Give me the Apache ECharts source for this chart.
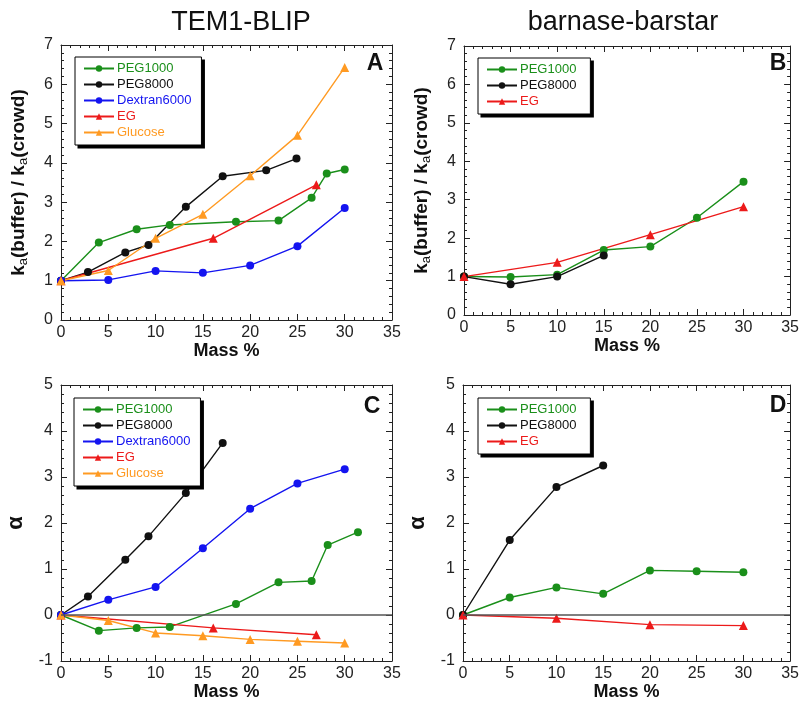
<!DOCTYPE html>
<html>
<head>
<meta charset="utf-8">
<script src="https://cdn.jsdelivr.net/npm/echarts@6/dist/echarts.min.js"></script>
<style>html,body{margin:0;padding:0;background:#fff;}#c{width:802px;height:702px;}</style>
</head>
<body>
<div id="c"></div>
<script>
// ---------- Data ----------
const xTicks = [0, 5, 10, 15, 20, 25, 30, 35];
// Panel A: TEM1-BLIP, ka(buffer)/ka(crowd)
const A_peg1000_x = [0, 4, 8, 11.5, 18.5, 23, 26.5, 28.1, 30];
const A_peg1000_y = [1, 1.97, 2.31, 2.42, 2.50, 2.53, 3.11, 3.73, 3.83];
const A_peg8000_x = [0, 2.85, 6.8, 9.25, 13.2, 17.1, 21.7, 24.9];
const A_peg8000_y = [1, 1.22, 1.72, 1.91, 2.88, 3.66, 3.81, 4.11];
const A_dex_x = [0, 5, 10, 15, 20, 25, 30];
const A_dex_y = [1, 1.02, 1.25, 1.20, 1.39, 1.88, 2.85];
const A_eg_x = [0, 16.1, 27];
const A_eg_y = [1, 2.08, 3.44];
const A_glu_x = [0, 5, 10, 15, 20, 25, 30];
const A_glu_y = [1, 1.26, 2.08, 2.69, 3.67, 4.70, 6.43];
// Panel B: barnase-barstar, ka(buffer)/ka(crowd)
const B_peg1000_x = [0, 5, 10, 15, 20, 25, 30];
const B_peg1000_y = [1, 0.99, 1.05, 1.69, 1.78, 2.53, 3.47];
const B_peg8000_x = [0, 5, 10, 15];
const B_peg8000_y = [1, 0.80, 1.00, 1.55];
const B_eg_x = [0, 10, 20, 30];
const B_eg_y = [1, 1.37, 2.09, 2.82];
// Panel C: TEM1-BLIP, alpha
const C_peg1000_x = [0, 4, 8, 11.5, 18.5, 23, 26.5, 28.2, 31.4];
const C_peg1000_y = [0, -0.34, -0.28, -0.26, 0.24, 0.71, 0.74, 1.52, 1.80];
const C_peg8000_x = [0, 2.85, 6.8, 9.25, 13.2, 17.1];
const C_peg8000_y = [0, 0.40, 1.20, 1.71, 2.65, 3.74];
const C_dex_x = [0, 5, 10, 15, 20, 25, 30];
const C_dex_y = [0, 0.33, 0.61, 1.45, 2.31, 2.86, 3.17];
const C_eg_x = [0, 16.1, 27];
const C_eg_y = [0, -0.28, -0.43];
const C_glu_x = [0, 5, 10, 15, 20, 25, 30];
const C_glu_y = [0, -0.12, -0.39, -0.45, -0.53, -0.57, -0.61];
// Panel D: barnase-barstar, alpha
const D_peg1000_x = [0, 5, 10, 15, 20, 25, 30];
const D_peg1000_y = [0, 0.38, 0.60, 0.46, 0.97, 0.95, 0.93];
const D_peg8000_x = [0, 5, 10, 15];
const D_peg8000_y = [0, 1.63, 2.78, 3.25];
const D_eg_x = [0, 10, 20, 30];
const D_eg_y = [0, -0.07, -0.21, -0.23];

const names = ['PEG1000', 'PEG8000', 'Dextran6000', 'EG', 'Glucose'];
const colors = { PEG1000: '#1a8f1a', PEG8000: '#111111', Dextran6000: '#1414f0', EG: '#ec1a1a', Glucose: '#ff9a22' };
const symbols = { PEG1000: 'circle', PEG8000: 'circle', Dextran6000: 'circle', EG: 'triangle', Glucose: 'triangle' };

// ---------- Build ----------
const FONT = 'Liberation Sans, Arial, Helvetica, sans-serif';
const pairs = (xs, ys) => xs.map((x, i) => [x, ys[i]]);

const grids = [
  { left: 61, top: 45, width: 331, height: 275 },
  { left: 464, top: 46, width: 331, height: 269 },
  { left: 61, top: 385, width: 331, height: 277 },
  { left: 463, top: 385, width: 331, height: 277 }
];
const yRanges = [[0, 7], [0, 7], [-1, 5], [-1, 5]];

const kaName = '{b|k}{s|a}{b|(buffer) / k}{s|a}{b|(crowd)}';
const yNames = [kaName, kaName, 'α', 'α'];

const xAxis = [], yAxis = [];
grids.forEach((g, i) => {
  const common = {
    gridIndex: i, type: 'value', min: 0, max: 35, interval: 5,
    axisLine: { show: true, onZero: false, lineStyle: { color: '#222', width: 1 } },
    axisTick: { show: true, inside: true, length: 6, lineStyle: { color: '#222' } },
    minorTick: { show: true, splitNumber: 5, length: 3, lineStyle: { color: '#222' } },
    splitLine: { show: false }, minorSplitLine: { show: false }
  };
  xAxis.push(Object.assign({}, common, {
    position: 'bottom',
    axisLabel: { show: true, fontSize: 16, color: '#222', fontFamily: FONT, margin: 5 },
    name: 'Mass %', nameLocation: 'middle', nameGap: 22,
    nameTextStyle: { fontSize: 18, fontWeight: 'bold', color: '#111', fontFamily: FONT }
  }));
  xAxis.push(Object.assign({}, common, { position: 'top', axisLabel: { show: false } }));
  const yc = {
    gridIndex: i, type: 'value', min: yRanges[i][0], max: yRanges[i][1], interval: 1,
    axisLine: { show: true, onZero: false, lineStyle: { color: '#222', width: 1 } },
    axisTick: { show: true, inside: true, length: 6, lineStyle: { color: '#222' } },
    minorTick: { show: true, splitNumber: 5, length: 3, lineStyle: { color: '#222' } },
    splitLine: { show: false }, minorSplitLine: { show: false }
  };
  const isKa = i < 2;
  yAxis.push(Object.assign({}, yc, {
    position: 'left',
    axisLabel: { show: true, fontSize: 16, color: '#222', fontFamily: FONT, margin: 8 },
    name: yNames[i], nameLocation: 'middle', nameGap: isKa ? 31 : 34,
    nameTextStyle: isKa ? {
      color: '#111', fontFamily: FONT,
      rich: {
        b: { fontSize: 19, fontWeight: 'bold', fontFamily: FONT, color: '#111', lineHeight: 22 },
        s: { fontSize: 13, fontWeight: 'normal', fontFamily: FONT, color: '#111', verticalAlign: 'bottom', lineHeight: 14, padding: [8, 0, 0, 0] }
      }
    } : { fontSize: 22, fontWeight: 'bold', color: '#111', fontFamily: FONT }
  }));
  yAxis.push(Object.assign({}, yc, { position: 'right', axisLabel: { show: false } }));
});

const series = [];
function addSeries(panel, name, xs, ys, extra) {
  const s = {
    type: 'line', name: name,
    xAxisIndex: panel * 2, yAxisIndex: panel * 2,
    data: pairs(xs, ys),
    symbol: symbols[name], symbolSize: symbols[name] === 'triangle' ? 9 : 8,
    color: colors[name],
    lineStyle: { color: colors[name], width: 1.4 },
    itemStyle: { color: colors[name] },
    emphasis: { disabled: true },
    animation: false, z: 3
  };
  series.push(Object.assign(s, extra || {}));
}
const zeroLine = { markLine: { silent: true, symbol: 'none', label: { show: false }, animation: false,
  lineStyle: { color: '#555', width: 1.5, type: 'solid' }, data: [{ yAxis: 0 }] } };

addSeries(0, 'PEG1000', A_peg1000_x, A_peg1000_y);
addSeries(0, 'PEG8000', A_peg8000_x, A_peg8000_y);
addSeries(0, 'Dextran6000', A_dex_x, A_dex_y);
addSeries(0, 'EG', A_eg_x, A_eg_y);
addSeries(0, 'Glucose', A_glu_x, A_glu_y);

addSeries(1, 'PEG1000', B_peg1000_x, B_peg1000_y);
addSeries(1, 'PEG8000', B_peg8000_x, B_peg8000_y);
addSeries(1, 'EG', B_eg_x, B_eg_y);

addSeries(2, 'PEG1000', C_peg1000_x, C_peg1000_y, zeroLine);
addSeries(2, 'PEG8000', C_peg8000_x, C_peg8000_y);
addSeries(2, 'Dextran6000', C_dex_x, C_dex_y);
addSeries(2, 'EG', C_eg_x, C_eg_y);
addSeries(2, 'Glucose', C_glu_x, C_glu_y);

addSeries(3, 'PEG1000', D_peg1000_x, D_peg1000_y, zeroLine);
addSeries(3, 'PEG8000', D_peg8000_x, D_peg8000_y);
addSeries(3, 'EG', D_eg_x, D_eg_y);

function mkLegend(left, top, list, padRight) {
  return {
    orient: 'vertical', left: left, top: top, z: 6,
    backgroundColor: '#fff', borderColor: '#000', borderWidth: 1,
    padding: [5, padRight, 6, 8], itemWidth: 30, itemHeight: 8, itemGap: 3,
    selectedMode: false,
    textStyle: { fontSize: 13, fontFamily: FONT, padding: [0, 0, 0, -2] },
    data: list.map(n => ({ name: n, textStyle: { color: colors[n] } }))
  };
}
const legend = [
  mkLegend(75, 57, names, 10),
  mkLegend(478, 58, ['PEG1000', 'PEG8000', 'EG'], 14),
  mkLegend(74, 398, names, 10),
  mkLegend(478, 398, ['PEG1000', 'PEG8000', 'EG'], 14)
];

const titleStyle = { fontSize: 27, fontWeight: 'normal', color: '#111', fontFamily: FONT };
const letterStyle = { fontSize: 23, fontWeight: 'bold', color: '#111', fontFamily: FONT };
const title = [
  { text: 'TEM1-BLIP', left: 241, top: 9, textAlign: 'center', padding: 0, textStyle: titleStyle },
  { text: 'barnase-barstar', left: 623, top: 9, textAlign: 'center', padding: 0, textStyle: titleStyle },
  { text: 'A', left: 375, top: 52, textAlign: 'center', padding: 0, textStyle: letterStyle },
  { text: 'B', left: 778, top: 52, textAlign: 'center', padding: 0, textStyle: letterStyle },
  { text: 'C', left: 372, top: 395, textAlign: 'center', padding: 0, textStyle: letterStyle },
  { text: 'D', left: 778, top: 394, textAlign: 'center', padding: 0, textStyle: letterStyle }
];

const chart = echarts.init(document.getElementById('c'), null, { renderer: 'canvas' });
chart.setOption({
  animation: false,
  backgroundColor: '#fff',
  title: title,
  legend: legend,
  grid: grids.map(g => Object.assign({ containLabel: false }, g)),
  xAxis: xAxis,
  yAxis: yAxis,
  series: series
});

// Drop shadows behind the legend boxes, sized from the rendered legend views
const shadows = [];
chart.getModel().eachComponent('legend', function (m) {
  const view = chart.getViewOfComponentModel(m);
  if (!view) return;
  const r = view.group.getBoundingRect();
  const x = view.group.x + r.x, y = view.group.y + r.y;
  shadows.push({ type: 'rect', z: 5, silent: true,
    shape: { x: x + 3, y: y + 3, width: r.width, height: r.height },
    style: { fill: '#000' } });
});
chart.setOption({ graphic: shadows });
</script>
</body>
</html>
